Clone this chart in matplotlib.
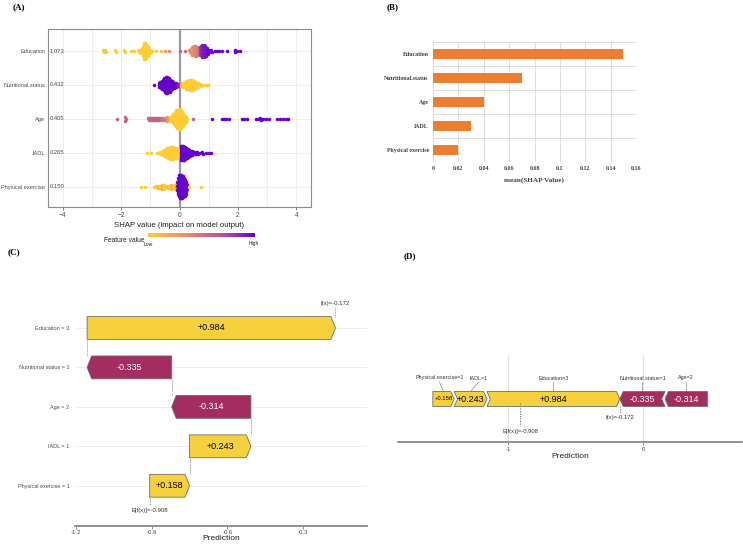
import numpy as np
import matplotlib
matplotlib.use("Agg")
import matplotlib.pyplot as plt
from matplotlib.colors import LinearSegmentedColormap
from matplotlib.patches import Polygon

plt.rcParams["font.family"] = ["Liberation Sans", "DejaVu Sans"]

W, H = 743, 544

# ---------------- data ----------------
features = ["Education", "Nutritional.status", "Age", "IADL", "Physical exercise"]
mean_abs_shap = [1.073, 0.432, 0.405, 0.265, 0.150]

# beeswarm bins: shap value, number of points, feature value (0 low .. 1 high)
edu_x = [-2.60, -2.52, -2.20, -1.87, -1.67, -1.54, -1.40, -1.30, -1.25, -1.20, -1.15, -1.10,
         -1.05, -1.00, -0.93, -0.80, -0.65, -0.48, -0.37, 0.03, 0.20, 0.35, 0.40, 0.45, 0.50,
         0.55, 0.60, 0.65, 0.70, 0.75, 0.80, 0.85, 0.90, 0.95, 1.00, 1.10, 1.20, 1.27, 1.35,
         1.44, 1.61, 1.90, 1.97, 2.07]
edu_n = [2, 2, 2, 2, 1, 1, 2, 3, 6, 9, 9, 7, 4, 2, 1, 1, 1, 1, 1, 1, 1, 2, 3, 5, 6, 6, 5, 4,
         5, 6, 7, 7, 6, 4, 2, 2, 1, 1, 1, 1, 1, 2, 1, 1]
edu_f = [0, 0, 0, 0, 0, 0, 0, 0, 0, 0, 0, 0, 0, 0, 0, 0, 0.1, 0.3, 0.35, 0.6, 0.55, 0.35,
         0.35, 0.35, 0.4, 0.4, 0.45, 0.5, 0.8, 0.85, 0.9, 0.9, 0.95, 0.95, 1, 1, 1, 1, 1, 1,
         1, 1, 1, 1]

nut_x = [-0.88, -0.70, -0.65, -0.60, -0.55, -0.50, -0.45, -0.40, -0.35, -0.30, -0.25, -0.20,
         -0.12, -0.05, 0.05, 0.12, 0.20, 0.25, 0.30, 0.35, 0.40, 0.45, 0.50, 0.55, 0.60, 0.65,
         0.72, 0.80, 0.90, 0.98]
nut_n = [1, 3, 4, 5, 6, 8, 9, 9, 8, 6, 5, 4, 3, 2, 2, 3, 4, 5, 5, 6, 6, 6, 5, 4, 3, 3, 2, 1,
         1, 1]
nut_f = [1, 1, 1, 1, 1, 1, 1, 1, 1, 1, 1, 1, 1, 0.9, 0.2, 0, 0, 0, 0, 0, 0, 0, 0, 0, 0, 0, 0,
         0, 0, 0]

age_x = [-2.13, -1.85, -1.05, -1.00, -0.95, -0.90, -0.85, -0.80, -0.75, -0.70, -0.62, -0.55,
         -0.45, -0.40, -0.35, -0.30, -0.25, -0.20, -0.15, -0.10, -0.05, 0.00, 0.05, 0.10, 0.15,
         0.20, 0.25, 0.46, 1.12, 1.44, 1.52, 1.60, 1.71, 2.14, 2.22, 2.31, 2.62, 2.70, 2.78,
         2.86, 2.95, 3.05, 3.34, 3.45, 3.55, 3.65, 3.72]
age_n = [1, 3, 2, 2, 2, 2, 2, 2, 2, 2, 2, 2, 2, 3, 2, 3, 4, 6, 8, 10, 10, 11, 10, 8, 6, 4, 3,
         1, 1, 1, 1, 1, 1, 1, 1, 1, 1, 1, 2, 1, 1, 1, 1, 1, 1, 1, 1]
age_f = [0.6, 0.6, 0.6, 0.6, 0.6, 0.6, 0.6, 0.6, 0.6, 0.6, 0.55, 0.5, 0.4, 0.3, 0.3, 0, 0, 0,
         0, 0, 0, 0, 0, 0, 0, 0, 0, 0.6, 1, 1, 1, 1, 1, 1, 1, 1, 1, 1, 1, 1, 1, 1, 1, 1, 1, 1, 1]

iadl_x = [-1.11, -0.99, -0.76, -0.70, -0.65, -0.60, -0.55, -0.50, -0.45, -0.40, -0.35, -0.30,
          -0.25, -0.20, -0.15, -0.10, -0.05, 0.05, 0.10, 0.15, 0.20, 0.25, 0.30, 0.35, 0.40,
          0.45, 0.50, 0.55, 0.62, 0.70, 0.80, 0.90, 1.00, 1.08]
iadl_n = [1, 1, 1, 1, 2, 2, 3, 4, 5, 6, 6, 7, 7, 7, 6, 6, 5, 8, 8, 8, 7, 6, 5, 4, 3, 3, 2, 2,
          2, 1, 2, 1, 1, 1]
iadl_f = [0] * 17 + [1] * 17

pe_x = [-1.33, -1.19, -0.88, -0.80, -0.72, -0.65, -0.58, -0.50, -0.42, -0.35, -0.28, -0.20,
        -0.14, -0.08, -0.04, 0.00, 0.04, 0.08, 0.12, 0.16, 0.20, 0.24, 0.32, 0.75]
pe_n = [1, 1, 1, 2, 2, 2, 3, 3, 2, 2, 3, 2, 3, 6, 10, 12, 12, 12, 11, 10, 8, 5, 1, 1]
pe_f = [0, 0, 0, 0, 0.1, 0, 0.15, 0, 0.1, 0, 0.15, 0, 0.1, 1, 1, 1, 1, 1, 1, 1, 1, 1, 0, 0]

swarm = [(edu_x, edu_n, edu_f), (nut_x, nut_n, nut_f), (age_x, age_n, age_f),
         (iadl_x, iadl_n, iadl_f), (pe_x, pe_n, pe_f)]

# panel B
imp_labels = ["Education", "Nutritional.status", "Age", "IADL", "Physical exercise"]
imp_values = [0.15, 0.07, 0.04, 0.03, 0.02]

# panel C / D
baseline = -0.908
prediction = -0.172
wf_labels = ["Education = 3", "Nutritional status = 1", "Age = 2", "IADL = 1",
             "Physical exercise = 1"]
wf_shap = [0.984, -0.335, -0.314, 0.243, 0.158]

force_labels = ["Physical.exercise=1", "IADL=1", "Education=3", "Nutritional.status=1", "Age=2"]
force_shap = [0.158, 0.243, 0.984, -0.335, -0.314]

YEL = "#F7D13D"
MAG = "#A52C60"
EDGE = "#6E6E6E"


def rect(l, t, r, b):
    return [l / W, 1 - b / H, (r - l) / W, (b - t) / H]


def arrow(x0, x1, y, hh, head, notch=False):
    # arrow from x0 towards x1 (tip at x1)
    d = 1 if x1 > x0 else -1
    head = min(head, abs(x1 - x0))
    pts = [(x0, y - hh), (x1 - d * head, y - hh), (x1, y), (x1 - d * head, y + hh), (x0, y + hh)]
    if notch:
        pts.append((x0 + d * head, y))
    return pts


fig = plt.figure(figsize=(W / 100, H / 100), dpi=100)

# ---------------- (A) SHAP summary ----------------
cmap = LinearSegmentedColormap.from_list(
    "shap", ["#FFCC33", "#EFA259", "#D0767B", "#A44BA6", "#6600CC"])
axA = fig.add_axes(rect(48, 29, 311, 207))
for row, (xs, ns, fs) in enumerate(swarm):
    for x, n, f in zip(xs, ns, fs):
        k = np.arange(n)
        yy = row + (k - (n - 1) / 2) * 0.06
        xx = x + ((k % 2) - 0.5) * 0.03 * (n > 1)
        axA.scatter(xx, yy, s=6.5, color=cmap(float(f)), lw=0, zorder=3)
axA.axvline(0, color="#9A9A9A", lw=1.6, zorder=2)
axA.set_xlim(-4.5, 4.5)
axA.set_ylim(4.6, -0.65)
axA.set_xticks([-4, -2, 0, 2, 4])
axA.set_xticks([-3, -1, 1, 3], minor=True)
axA.set_yticks(range(len(features)))
axA.set_yticklabels(features)
axA.grid(True, which="both", color="#EBEBEB", lw=0.6, zorder=0)
axA.set_axisbelow(True)
axA.tick_params(axis="x", labelsize=4.8, colors="#4D4D4D", length=2, width=0.5, pad=1.5)
axA.tick_params(axis="y", labelsize=4.1, colors="#4D4D4D", length=0, pad=2)
axA.tick_params(which="minor", length=0)
for sp in axA.spines.values():
    sp.set_color("#8C8C8C")
    sp.set_linewidth(0.8)
for row, v in enumerate(mean_abs_shap):
    axA.text(-4.45, row, f"{v:.3f}", fontsize=4.2, color="#4D4D4D", va="center", ha="left")
axA.set_xlabel("SHAP value (impact on model output)", fontsize=5.6, color="#222222", labelpad=2)

axCb = fig.add_axes(rect(148, 233, 255, 237))
axCb.imshow(np.linspace(0, 1, 256)[None, :], aspect="auto", cmap=cmap)
axCb.set_axis_off()
fig.text(104 / W, 1 - 240 / H, "Feature value", fontsize=4.8, va="center", color="#222222")
fig.text(144 / W, 1 - 244 / H, "Low", fontsize=3.6, va="center", color="#222222")
fig.text(249 / W, 1 - 244 / H, "High", fontsize=3.6, va="center", color="#222222")

# ---------------- (B) mean SHAP bar ----------------
axB = fig.add_axes(rect(433, 42, 636, 162))
yb = np.arange(len(imp_values))
axB.barh(yb, imp_values, height=0.42, color="#ED7D31", zorder=3)
axB.set_xlim(0, 0.16)
axB.set_ylim(4.5, -0.5)
xt = np.arange(0, 0.161, 0.02)
axB.set_xticks(xt)
axB.set_xticklabels([f"{v:g}" for v in np.round(xt, 2)])
axB.set_yticks(yb)
axB.set_yticklabels(imp_labels)
axB.set_yticks(np.arange(-0.5, 4.6, 1), minor=True)
axB.grid(True, axis="x", color="#D9D9D9", lw=0.6)
axB.grid(True, axis="y", which="minor", color="#D9D9D9", lw=0.6)
axB.set_axisbelow(True)
for sp in axB.spines.values():
    sp.set_visible(False)
axB.tick_params(length=0, labelsize=4.2, colors="#404040", pad=3)
axB.tick_params(which="minor", length=0)
for lab in axB.get_xticklabels() + axB.get_yticklabels():
    lab.set_fontfamily("Liberation Serif")
    lab.set_fontweight("bold")
axB.set_xlabel("mean(SHAP Value)", fontsize=5.2, fontfamily="Liberation Serif",
               fontweight="bold", color="#404040", labelpad=4)

# ---------------- (C) waterfall ----------------
axC = fig.add_axes(rect(75, 295, 367, 526))
n = len(wf_shap)
# bars stacked from the bottom row upwards
ends = []
cur = baseline
for i in range(n - 1, -1, -1):
    ends.append((i, cur, cur + wf_shap[i]))
    cur += wf_shap[i]
ends = sorted(ends)
hh = 0.29
headC = 0.018
for i, x0, x1 in ends:
    v = wf_shap[i]
    col = YEL if v > 0 else MAG
    axC.add_patch(Polygon(arrow(x0, x1, i, hh, headC), closed=True, fc=col, ec=EDGE,
                          lw=0.6, zorder=3))
    axC.text((x0 + x1) / 2, i, f"{v:+.3f}", fontsize=6.5, ha="center", va="center",
             color="black" if v > 0 else "white", zorder=4)
for i, x0, x1 in ends:
    if i < n - 1:
        axC.plot([x0, x0], [i + hh, i + 1 - hh], ls=(0, (1, 1)), color="#7F7F7F", lw=0.6)
axC.plot([baseline, baseline], [n - 1 + hh, n - 1 + 0.48], ls=(0, (1, 1)), color="#7F7F7F", lw=0.6)
axC.plot([prediction, prediction], [-hh, -0.52], ls=(0, (1, 1)), color="#7F7F7F", lw=0.6)
axC.text(baseline, n - 1 + 0.63, f"E[f(x)]={baseline}", fontsize=4.3, ha="center",
         va="center", color="#333333")
axC.text(prediction, -0.63, f"f(x)={prediction}", fontsize=4.3, ha="center", va="center",
         color="#333333")
axC.set_xlim(-1.204, -0.047)
axC.set_ylim(5.02, -0.835)
axC.set_xticks([-1.2, -0.9, -0.6, -0.3])
axC.set_xticklabels(["-1.2", "-0.9", "-0.6", "-0.3"])
axC.set_yticks(range(n))
axC.set_yticklabels(wf_labels)
axC.grid(True, axis="y", color="#EBEBEB", lw=0.6)
axC.set_axisbelow(True)
for s in ["top", "right", "left"]:
    axC.spines[s].set_visible(False)
axC.spines["bottom"].set_color("#7F7F7F")
axC.spines["bottom"].set_linewidth(1.2)
axC.tick_params(axis="y", length=0, labelsize=4.0, colors="#4D4D4D", pad=4)
axC.tick_params(axis="x", length=2, width=0.6, color="#7F7F7F", labelsize=4.3,
                labelcolor="#4D4D4D", pad=1.2)
axC.set_xlabel("Prediction", fontsize=6.0, color="#222222", labelpad=0)

# ---------------- (D) force plot ----------------
axD = fig.add_axes(rect(398, 355, 742, 442))
yc, hd, headD = 43, 7.5, 0.025
pos = [v for v in force_shap if v > 0]
left = prediction - sum(pos)
x = left
segs = []
for v in force_shap:
    if v > 0:
        segs.append((x, x + v, v))
        x += v
x = prediction
for v in force_shap:
    if v < 0:
        segs.append((x + abs(v), x, v))
        x += abs(v)
nudges = [-0.03, 0.06, 0, 0, 0]
for k, ((x0, x1, v), lab) in enumerate(zip(segs, force_labels)):
    col = YEL if v > 0 else MAG
    notch = (v > 0 and k > 0) or (v < 0 and k < len(segs) - 1)
    axD.add_patch(Polygon(arrow(x0, x1, yc, hd, headD, notch=notch), closed=True, fc=col,
                          ec=EDGE, lw=0.6, zorder=3))
    cx = (x0 + x1) / 2
    axD.text(cx, yc, f"{v:+.3f}", fontsize=4.2 if abs(v) < 0.2 else 6.5, ha="center",
             va="center", color="black" if v > 0 else "white", zorder=4)
    lx = cx + nudges[k]
    axD.plot([cx, lx], [yc + hd, 60], color="#8C8C8C", lw=0.5, zorder=2)
    axD.text(lx, 64, lab, fontsize=3.9, ha="center", va="center", color="#333333")
axD.plot([prediction, prediction], [36, 29], ls=(0, (1.5, 1.5)), color="#666666", lw=0.6)
axD.text(prediction, 25, f"f(x)={prediction}", fontsize=4.2, ha="center", va="center",
         color="#333333")
axD.plot([baseline, baseline], [39, 16], ls=(0, (1.5, 1.5)), color="#666666", lw=0.6, zorder=5)
axD.text(baseline, 11, f"E[f(x)]={baseline}", fontsize=4.2, ha="center", va="center",
         color="#333333")
axD.set_xlim(-1.815, 0.733)
axD.set_ylim(0, 87)
axD.set_xticks([-1, 0])
axD.set_xticklabels(["-1", "0"])
axD.set_yticks([])
axD.grid(True, axis="x", color="#E3E3E3", lw=0.7)
axD.set_axisbelow(True)
for s in ["top", "right", "left"]:
    axD.spines[s].set_visible(False)
axD.spines["bottom"].set_color("#7F7F7F")
axD.spines["bottom"].set_linewidth(1.2)
axD.tick_params(axis="x", length=2, width=0.6, color="#7F7F7F", labelsize=4.3,
                labelcolor="#4D4D4D", pad=1.5)
axD.set_xlabel("Prediction", fontsize=6.0, color="#222222", labelpad=1)

# ---------------- panel letters ----------------
for lab, px, py in [("(A)", 13, 3), ("(B)", 387, 3), ("(C)", 8, 248), ("(D)", 404, 252)]:
    fig.text(px / W, 1 - py / H, lab, fontsize=6.5, fontweight="bold",
             fontfamily="Liberation Serif", va="top", ha="left")

fig.savefig("out.png", dpi=100, facecolor="white")
